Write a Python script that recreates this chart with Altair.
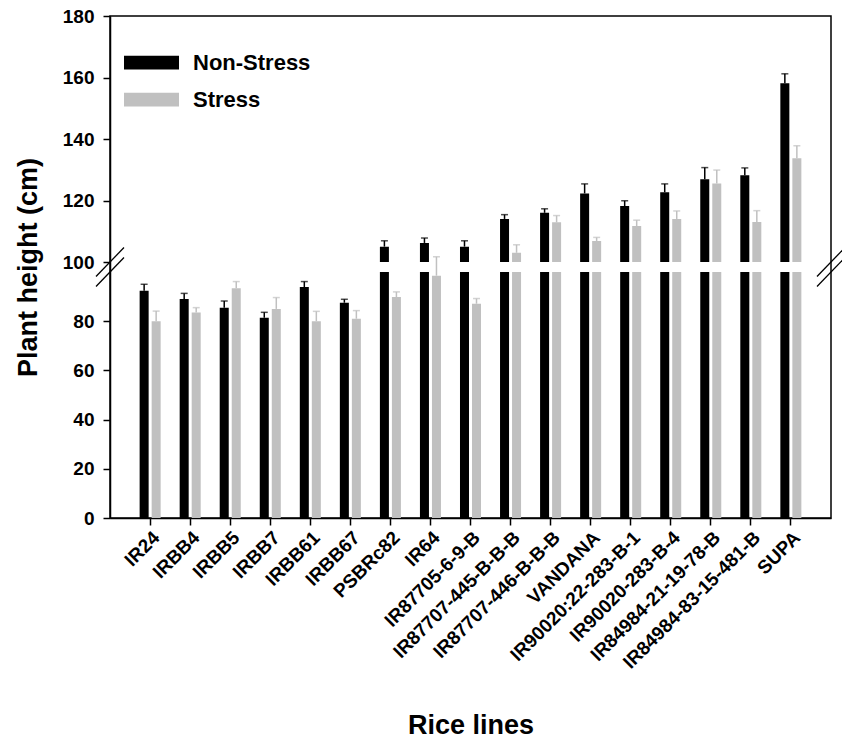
import altair as alt
import pandas as pd

lines = ["IR24", "IRBB4", "IRBB5", "IRBB7", "IRBB61", "IRBB67", "PSBRc82", "IR64",
         "IR87705-6-9-B", "IR87707-445-B-B-B", "IR87707-446-B-B-B", "VANDANA",
         "IR90020:22-283-B-1", "IR90020-283-B-4", "IR84984-21-19-78-B",
         "IR84984-83-15-481-B", "SUPA"]
conditions = ["Non-Stress", "Stress"]
non_stress = [92.4, 89.0, 85.5, 81.4, 93.9, 87.5, 105.0, 106.2, 105.0, 114.0, 116.0,
              122.3, 118.2, 122.7, 126.9, 128.2, 158.1]
non_stress_err = [2.6, 2.3, 2.7, 2.2, 2.2, 1.4, 1.9, 1.6, 1.9, 1.4, 1.3, 3.1, 1.7,
                  2.7, 3.8, 2.4, 3.1]
stress = [80.0, 83.5, 93.4, 85.0, 80.0, 81.0, 89.8, 98.5, 87.1, 103.0, 112.9, 106.8,
          111.7, 114.0, 125.5, 113.0, 133.7]
stress_err = [4.1, 2.0, 2.7, 4.6, 4.0, 3.3, 2.1, 3.2, 2.1, 2.6, 2.2, 1.2, 1.9, 2.6,
              4.4, 3.7, 4.1]
y_ticks = [0, 20, 40, 60, 80, 100, 120, 140, 160, 180]
colors = ["#000000", "#c0c0c0"]

rows = []
for i, name in enumerate(lines):
    rows.append({"line": name, "cond": "Non-Stress", "h": non_stress[i], "err": non_stress_err[i]})
    rows.append({"line": name, "cond": "Stress", "h": stress[i], "err": stress_err[i]})
df = pd.DataFrame(rows)
df["top"] = df["h"] + df["err"]

W, H = 721, 502
FONT = "Liberation Sans"
# broken axis: lower segment 0-100, gap, upper segment 100-180
LOW_TOP_PX = 256
UP_BOTTOM_PX = 246
y_scale = alt.Scale(domain=[0, 99.99, 100, 180], range=[H, LOW_TOP_PX, UP_BOTTOM_PX, 0],
                    nice=False, zero=False)

x_enc = alt.X("line:N", sort=lines,
              scale=alt.Scale(paddingInner=0.475, paddingOuter=0.74),
              axis=alt.Axis(title="Rice lines", labelAngle=-45, labelPadding=3,
                            labelLimit=0, titleX=W / 2, titleY=215,
                            titleAlign="center", titleBaseline="alphabetic"))
xoff_enc = alt.XOffset("cond:N", sort=conditions,
                       scale=alt.Scale(paddingInner=0.25, paddingOuter=0))
color_scale = alt.Scale(domain=conditions, range=colors)

base = alt.Chart(df)

bars = base.mark_bar().encode(
    x=x_enc,
    xOffset=xoff_enc,
    y=alt.Y("h:Q", scale=y_scale,
            axis=alt.Axis(title="Plant height (cm)", values=y_ticks, labelPadding=9,
                          titleX=-74, titleY=(H) / 2, titleAngle=270,
                          titleAlign="center", titleBaseline="alphabetic")),
    color=alt.Color("cond:N", sort=conditions, scale=color_scale,
                    legend=alt.Legend(orient="none", legendX=14, legendY=38.5, title=None,
                                      symbolType="M-1,-0.25L1,-0.25L1,0.25L-1,0.25Z",
                                      symbolSize=3025, symbolStrokeWidth=0,
                                      symbolOpacity=1, clipHeight=16, rowPadding=15,
                                      labelOffset=14, labelFontSize=22, labelFont=FONT,
                                      labelFontWeight="bold", labelColor="black",
                                      labelLimit=0, padding=0)),
)

gap = alt.Chart(pd.DataFrame({"g": [0]})).mark_rect(color="white").encode(
    y=alt.datum(99.99), y2=alt.datum(100),
    x=alt.value(2), x2=alt.value(W - 2),
)

err_rule = base.mark_rule(strokeWidth=1.5).encode(
    x=x_enc, xOffset=xoff_enc,
    y=alt.Y("h:Q", scale=y_scale), y2="top:Q",
    color=alt.Color("cond:N", sort=conditions, scale=color_scale, legend=None),
)
err_cap = base.mark_tick(thickness=1.5, size=7).encode(
    x=x_enc, xOffset=xoff_enc,
    y=alt.Y("top:Q", scale=y_scale),
    color=alt.Color("cond:N", sort=conditions, scale=color_scale, legend=None),
)

def brk(cx, cy):
    return alt.Chart(pd.DataFrame({"g": [0]})).mark_rule(color="black", strokeWidth=1.3).encode(
        x=alt.value(cx - 14), x2=alt.value(cx + 14),
        y=alt.value(cy + 14.5), y2=alt.value(cy - 14.5),
    )

breaks = [brk(0, UP_BOTTOM_PX), brk(0, LOW_TOP_PX), brk(W, UP_BOTTOM_PX), brk(W, LOW_TOP_PX)]

chart = alt.layer(bars, gap, err_rule, err_cap, *breaks).properties(
    width=W, height=H,
    background="white",
    autosize=alt.AutoSizeParams(type="none"),
    padding={"left": 110, "top": 16, "right": 11, "bottom": 222},
).configure_view(
    stroke="black", strokeWidth=1.5
).configure_axis(
    grid=False,
    labelFont=FONT, labelFontSize=19, labelFontWeight="bold", labelColor="black",
    titleFont=FONT, titleFontSize=27, titleFontWeight="bold", titleColor="black",
    domainColor="black", domainWidth=1.5, tickColor="black", tickWidth=1.5, tickSize=7,
)

chart.save("out.html", embed_options={"renderer": "svg", "actions": False})
